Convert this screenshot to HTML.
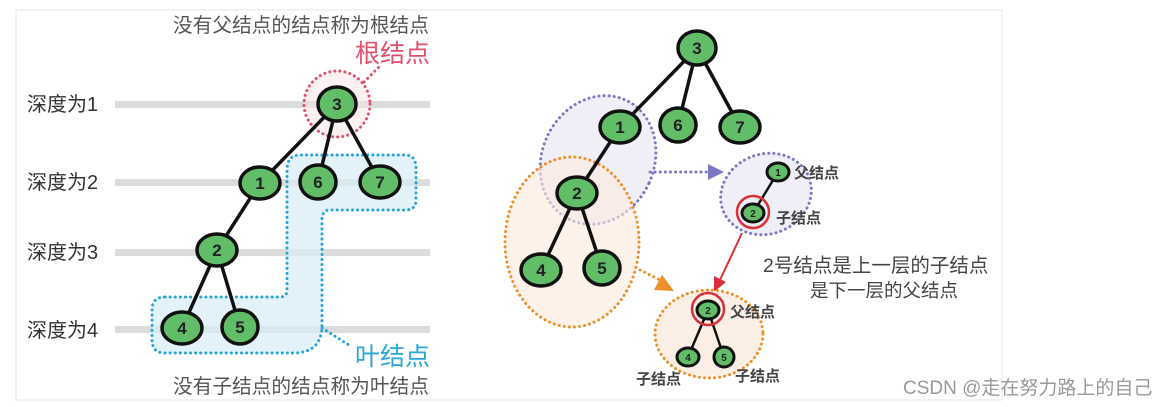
<!DOCTYPE html>
<html><head><meta charset="utf-8"><style>
html,body{margin:0;padding:0;background:#fff;}
svg{display:block;}
text{font-family:"Liberation Sans","Noto Sans CJK SC",sans-serif;}
.d{stroke-width:3;stroke-dasharray:0.1 5;stroke-linecap:round;}
</style></head><body>
<svg width="1170" height="407" viewBox="0 0 1170 407" xmlns="http://www.w3.org/2000/svg">
<rect x="16" y="10" width="986" height="390" fill="#fff" stroke="#e6e6e6" stroke-width="1"/>
<!-- LEFT -->
<text x="173" y="32" font-size="19.7" fill="#555">没有父结点的结点称为根结点</text>
<text x="355" y="62" font-size="25" fill="#e0506a">根结点</text>
<g font-size="20" fill="#333">
<text x="27" y="111">深度为1</text><text x="27" y="189">深度为2</text>
<text x="27" y="259">深度为3</text><text x="27" y="337">深度为4</text>
</g>
<g fill="#dcdcdc">
<rect x="115" y="101" width="315" height="7"/><rect x="115" y="179" width="315" height="7"/>
<rect x="115" y="249" width="315" height="7"/><rect x="115" y="326" width="315" height="7"/>
</g>
<path class="d" d="M165,297 L280,297 Q287,297 287,290 L287,170 Q287,155 300,155 L405,155 Q416,155 416,168 L416,200 Q416,210 405,210 L330,210 Q322,210 322,220 L322,325 Q322,352 295,353 L165,353 Q152,353 152,340 L152,310 Q152,297 165,297 Z" fill="#d7ebf5" fill-opacity="0.7" stroke="#2aa5d8"/>
<path class="d" d="M322,328 L352,347" stroke="#2aa5d8"/>
<circle class="d" cx="337" cy="104" r="33" fill="#f8e3e6" fill-opacity="0.5" stroke="#e0506a"/>
<path class="d" d="M364,82 L380,66" stroke="#e0506a"/>
<g stroke="#111" stroke-width="3.5">
<line x1="337" y1="104" x2="260" y2="183"/><line x1="337" y1="104" x2="318" y2="182"/><line x1="337" y1="104" x2="380" y2="182"/>
<line x1="260" y1="183" x2="217" y2="250"/><line x1="217" y1="250" x2="182" y2="328"/><line x1="217" y1="250" x2="240" y2="327"/>
</g>
<g fill="#62bd69" stroke="#111" stroke-width="3.5">
<ellipse cx="337" cy="104" rx="19" ry="17"/><ellipse cx="260" cy="183" rx="20" ry="16"/><ellipse cx="318" cy="182" rx="18" ry="17"/>
<ellipse cx="380" cy="182" rx="20" ry="16"/><ellipse cx="217" cy="250" rx="20" ry="16"/><ellipse cx="182" cy="328" rx="20" ry="16"/><ellipse cx="240" cy="327" rx="18" ry="17"/>
</g>
<g font-size="17" font-weight="bold" fill="#222" text-anchor="middle">
<text x="337" y="110">3</text><text x="260" y="189">1</text><text x="318" y="188">6</text><text x="380" y="188">7</text>
<text x="217" y="256">2</text><text x="182" y="334">4</text><text x="240" y="333">5</text>
</g>
<text x="355" y="365" font-size="25" fill="#2aa5d8">叶结点</text>
<text x="173" y="393" font-size="19.7" fill="#555">没有子结点的结点称为叶结点</text>
<!-- RIGHT -->
<ellipse class="d" cx="598" cy="160" rx="56" ry="66" transform="rotate(25 598 160)" fill="#ecebf5" fill-opacity="0.8" stroke="#7a78c0"/>
<ellipse class="d" cx="572" cy="242" rx="67" ry="85" fill="#fbe9dc" fill-opacity="0.6" stroke="#ee8f2a"/>
<path class="d" d="M650,172 L708,172" stroke="#7a78c0"/>
<polygon points="708,164 724,172 708,180" fill="#7a78c0"/>
<path class="d" d="M640,270 L660,280" stroke="#ee8f2a"/>
<polygon points="662,275 674,291 654,290" fill="#ee8f2a"/>
<g stroke="#111" stroke-width="3.5">
<line x1="697" y1="48" x2="620" y2="127"/><line x1="697" y1="48" x2="678" y2="125"/><line x1="697" y1="48" x2="740" y2="127"/>
<line x1="620" y1="127" x2="577" y2="193"/><line x1="577" y1="193" x2="541" y2="270"/><line x1="577" y1="193" x2="602" y2="268"/>
</g>
<g fill="#62bd69" stroke="#111" stroke-width="3.5">
<ellipse cx="697" cy="48" rx="19" ry="17"/><ellipse cx="620" cy="127" rx="20" ry="16"/><ellipse cx="678" cy="125" rx="18" ry="17"/>
<ellipse cx="740" cy="127" rx="20" ry="16"/><ellipse cx="577" cy="193" rx="20" ry="16"/><ellipse cx="541" cy="270" rx="20" ry="16"/><ellipse cx="602" cy="268" rx="18" ry="17"/>
</g>
<g font-size="17" font-weight="bold" fill="#222" text-anchor="middle">
<text x="697" y="54">3</text><text x="620" y="133">1</text><text x="678" y="131">6</text><text x="740" y="133">7</text>
<text x="577" y="199">2</text><text x="541" y="276">4</text><text x="602" y="274">5</text>
</g>
<!-- small purple -->
<ellipse class="d" cx="766" cy="194" rx="46" ry="40" transform="rotate(-20 766 194)" fill="#ecebf5" fill-opacity="0.8" stroke="#7a78c0"/>
<line x1="778" y1="172" x2="753" y2="213" stroke="#111" stroke-width="2.5"/>
<ellipse cx="778" cy="172" rx="11" ry="9" fill="#62bd69" stroke="#111" stroke-width="3"/>
<ellipse cx="753" cy="213" rx="11" ry="9" fill="#62bd69" stroke="#111" stroke-width="3"/>
<circle cx="753" cy="212" r="16" fill="none" stroke="#d9303a" stroke-width="2.5"/>
<text x="778" y="176" font-size="10" font-weight="bold" text-anchor="middle" fill="#222">1</text>
<text x="753" y="217" font-size="10" font-weight="bold" text-anchor="middle" fill="#222">2</text>
<text x="794" y="178" font-size="15" font-weight="bold" fill="#444">父结点</text>
<text x="776" y="223" font-size="15" font-weight="bold" fill="#444">子结点</text>
<line x1="742" y1="233" x2="720" y2="280" stroke="#d9303a" stroke-width="2"/>
<polygon points="714,292 714,276 726,282" fill="#d9303a"/>
<text x="763" y="272" font-size="19.5" fill="#444">2号结点是上一层的子结点</text>
<text x="810" y="297" font-size="18.5" fill="#444">是下一层的父结点</text>
<!-- small orange -->
<ellipse class="d" cx="709" cy="334" rx="54" ry="44" fill="#fbe9dc" fill-opacity="0.7" stroke="#ee8f2a"/>
<g stroke="#111" stroke-width="2.5"><line x1="708" y1="310" x2="688" y2="357"/><line x1="708" y1="310" x2="724" y2="357"/></g>
<g fill="#62bd69" stroke="#111" stroke-width="3">
<ellipse cx="708" cy="310" rx="11" ry="9"/><ellipse cx="688" cy="357" rx="11" ry="9"/><ellipse cx="724" cy="357" rx="10" ry="10"/>
</g>
<circle cx="708" cy="309" r="16" fill="none" stroke="#d9303a" stroke-width="2.5"/>
<g font-size="10" font-weight="bold" text-anchor="middle" fill="#222">
<text x="708" y="314">2</text><text x="688" y="361">4</text><text x="724" y="361">5</text></g>
<text x="730" y="317" font-size="15" font-weight="bold" fill="#444">父结点</text>
<text x="636" y="384" font-size="15" font-weight="bold" fill="#444">子结点</text>
<text x="735" y="381" font-size="15" font-weight="bold" fill="#444">子结点</text>
<text x="903" y="394" font-size="19" fill="#999">CSDN @走在努力路上的自己</text>
</svg>
</body></html>
